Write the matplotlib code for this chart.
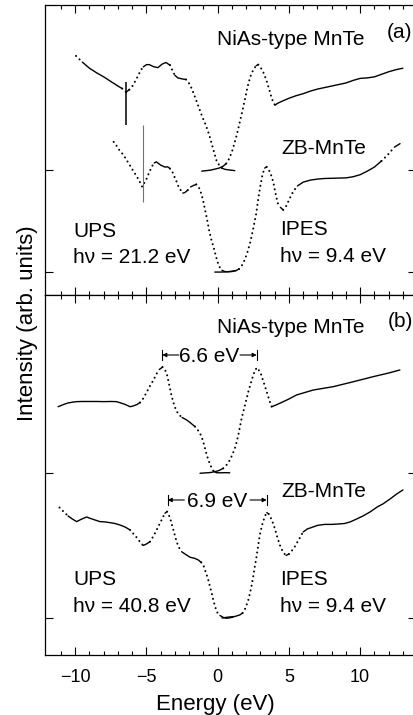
import numpy as np
import matplotlib
matplotlib.use("Agg")
import matplotlib.pyplot as plt

plt.rcParams['font.family'] = ['Liberation Sans', 'DejaVu Sans']

# ---------------- data (energy in eV, intensity in arb. units) ----------------
# Panel (a): UPS hv = 21.2 eV / IPES hv = 9.4 eV
niasA_ups_E = [-9.94, -9.5, -9.0, -8.5, -8.0, -7.5, -7.0, -6.7, -6.43, -6.2, -6.0, -5.8, -5.57, -5.4,
               -5.22, -5.0, -4.8, -4.5, -4.2, -3.9, -3.63, -3.35, -3.15, -3.0, -2.8, -2.5, -2.22, -2.0,
               -1.82, -1.6, -1.36, -1.1, -0.89, -0.7, -0.54, -0.4, -0.26, -0.1, 0.1, 0.3, 0.5, 0.8, 1.2]
niasA_ups_I = [2.12, 2.06, 2.0, 1.955, 1.915, 1.87, 1.825, 1.80, 1.765, 1.79, 1.82, 1.87, 1.93, 1.98,
               2.013, 2.035, 2.035, 2.015, 2.005, 2.04, 2.056, 2.03, 1.97, 1.93, 1.905, 1.895, 1.889, 1.85,
               1.80, 1.72, 1.63, 1.53, 1.46, 1.39, 1.32, 1.25, 1.18, 1.10, 1.05, 1.02, 1.008, 1.002, 0.995]

niasA_ipes_E = [-1.12, -0.8, -0.5, -0.2, 0.1, 0.4, 0.6, 0.8, 1.0, 1.15, 1.33, 1.5, 1.7, 1.92, 2.1, 2.3,
                2.5, 2.7, 2.85, 3.0, 3.2, 3.4, 3.6, 3.8, 4.02, 4.2, 4.5, 5.0, 5.5, 6.0, 6.5, 7.0, 7.5,
                8.0, 8.5, 9.0, 9.5, 10.0, 10.5, 11.0, 11.5, 12.0, 12.5, 13.0]
niasA_ipes_I = [0.99, 0.995, 1.0, 1.01, 1.02, 1.04, 1.065, 1.11, 1.18, 1.25, 1.34, 1.44, 1.56, 1.70, 1.82,
                1.92, 1.985, 2.025, 2.035, 2.01, 1.96, 1.89, 1.80, 1.70, 1.637, 1.655, 1.675, 1.705, 1.73,
                1.75, 1.775, 1.795, 1.81, 1.825, 1.84, 1.855, 1.88, 1.90, 1.905, 1.915, 1.94, 1.965,
                1.985, 2.0]

zbA_ups_E = [-7.3, -7.1, -6.9, -6.6, -6.3, -6.0, -5.8, -5.6, -5.45, -5.3, -5.15, -5.0, -4.8, -4.6, -4.45,
             -4.3, -4.15, -4.0, -3.85, -3.7, -3.5, -3.35, -3.2, -3.05, -2.9, -2.75, -2.6, -2.45, -2.3,
             -2.1, -1.9, -1.7, -1.5, -1.35, -1.2, -1.05, -0.9, -0.75, -0.6, -0.45, -0.3, -0.15, 0.0,
             0.15, 0.3, 0.5, 0.75, 1.0, 1.3]
zbA_ups_I = [1.277, 1.24, 1.196, 1.147, 1.078, 1.01, 0.965, 0.919, 0.88, 0.836, 0.875, 0.912, 0.98, 1.04,
             1.07, 1.081, 1.065, 1.049, 1.04, 1.03, 1.032, 1.015, 0.99, 0.94, 0.892, 0.84, 0.804, 0.775,
             0.78, 0.804, 0.835, 0.85, 0.86, 0.84, 0.79, 0.72, 0.62, 0.52, 0.41, 0.32, 0.25, 0.17, 0.095,
             0.045, 0.018, 0.005, 0.003, 0.005, 0.015]

zbA_ipes_E = [-0.2, 0.2, 0.6, 1.0, 1.3, 1.5, 1.7, 1.9, 2.1, 2.3, 2.5, 2.7, 2.85, 3.0, 3.15, 3.3, 3.44,
              3.6, 3.75, 3.9, 4.05, 4.2, 4.4, 4.6, 4.8, 5.05, 5.3, 5.6, 6.0, 6.5, 7.0, 7.5, 8.0, 8.5,
              9.0, 9.5, 10.0, 10.5, 11.0, 11.5, 12.0, 12.4, 12.8]
zbA_ipes_I = [0.0, 0.0, 0.002, 0.008, 0.015, 0.03, 0.065, 0.12, 0.2, 0.3, 0.43, 0.57, 0.72, 0.85, 0.96,
              1.02, 1.032, 1.0, 0.951, 0.885, 0.78, 0.68, 0.635, 0.61, 0.645, 0.72, 0.79, 0.845, 0.882,
              0.902, 0.912, 0.918, 0.92, 0.922, 0.924, 0.935, 0.955, 0.99, 1.03, 1.09, 1.16, 1.225, 1.26]

# Panel (b): UPS hv = 40.8 eV / IPES hv = 9.4 eV
niasB_ups_E = [-11.2, -10.8, -10.5, -10.2, -9.9, -9.5, -9.0, -8.5, -8.0, -7.5, -7.1, -6.8, -6.5, -6.15,
               -5.9, -5.65, -5.45, -5.2, -4.98, -4.75, -4.52, -4.3, -4.1, -3.87, -3.7, -3.55, -3.4,
               -3.25, -3.12, -2.95, -2.77, -2.5, -2.18, -1.9, -1.59, -1.4, -1.24, -1.1, -0.95, -0.77,
               -0.6, -0.45, -0.3, -0.1, 0.2, 0.5, 0.85]
niasB_ups_I = [1.454, 1.47, 1.48, 1.485, 1.489, 1.49, 1.49, 1.49, 1.489, 1.49, 1.489, 1.48, 1.47, 1.454,
               1.46, 1.47, 1.483, 1.514, 1.555, 1.597, 1.635, 1.679, 1.71, 1.727, 1.71, 1.672, 1.604,
               1.535, 1.487, 1.438, 1.404, 1.38, 1.363, 1.342, 1.317, 1.294, 1.271, 1.239, 1.191, 1.122,
               1.074, 1.039, 1.012, 1.0, 0.999, 1.0, 0.999]

niasB_ipes_E = [-1.24, -0.5, -0.19, 0.1, 0.39, 0.65, 0.86, 1.05, 1.21, 1.33, 1.45, 1.68, 1.92, 2.15,
                2.39, 2.62, 2.78, 3.02, 3.25, 3.44, 3.62, 3.79, 4.0, 4.37, 5.0, 5.54, 6.71, 8.11, 9.52,
                10.92, 12.0, 12.79]
niasB_ipes_I = [0.996, 1.001, 1.007, 1.015, 1.03, 1.056, 1.087, 1.129, 1.168, 1.211, 1.259, 1.374, 1.466,
                1.557, 1.638, 1.707, 1.723, 1.684, 1.615, 1.557, 1.5, 1.454, 1.462, 1.478, 1.507, 1.535,
                1.569, 1.592, 1.626, 1.661, 1.686, 1.707]

zbB_ups_E = [-11.1, -10.8, -10.5, -10.2, -9.9, -9.6, -9.2, -8.96, -8.6, -8.26, -7.9, -7.56, -7.2, -6.86,
             -6.5, -6.15, -5.9, -5.64, -5.4, -5.22, -5.0, -4.75, -4.55, -4.4, -4.2, -4.05, -3.85, -3.7,
             -3.55, -3.4, -3.3, -3.2, -3.05, -2.88, -2.7, -2.53, -2.2, -1.94, -1.6, -1.36, -1.15, -1.01,
             -0.89, -0.77, -0.65, -0.54, -0.42, -0.31, -0.19, -0.07, 0.16, 0.4, 0.63, 0.86, 1.1]
zbB_ups_I = [0.76, 0.73, 0.702, 0.681, 0.663, 0.678, 0.695, 0.686, 0.674, 0.663, 0.661, 0.656, 0.65, 0.64,
             0.626, 0.606, 0.578, 0.549, 0.516, 0.499, 0.509, 0.525, 0.557, 0.583, 0.623, 0.652, 0.692,
             0.721, 0.732, 0.702, 0.674, 0.637, 0.585, 0.523, 0.482, 0.456, 0.434, 0.418, 0.41, 0.399,
             0.382, 0.365, 0.33, 0.296, 0.258, 0.215, 0.172, 0.124, 0.083, 0.043, 0.017, 0.003, -0.002,
             0.001, 0.007]

zbB_ipes_E = [0.3, 0.86, 1.2, 1.56, 1.75, 1.92, 2.05, 2.15, 2.27, 2.39, 2.5, 2.6, 2.69, 2.8, 2.9, 3.0,
              3.16, 3.32, 3.45, 3.58, 3.7, 3.85, 4.02, 4.2, 4.4, 4.6, 4.8, 5.0, 5.19, 5.4, 5.6, 5.8, 6.0,
              6.3, 6.6, 7.0, 7.5, 8.0, 8.5, 8.9, 9.3, 9.75, 10.2, 10.7, 11.2, 11.6, 12.1, 12.56, 13.0]
zbB_ipes_I = [0.0, 0.007, 0.01, 0.021, 0.034, 0.062, 0.096, 0.124, 0.172, 0.227, 0.289, 0.351, 0.399,
              0.468, 0.537, 0.592, 0.654, 0.702, 0.725, 0.716, 0.695, 0.661, 0.613, 0.551, 0.492, 0.451,
              0.43, 0.44, 0.461, 0.489, 0.523, 0.557, 0.592, 0.613, 0.623, 0.637, 0.644, 0.644, 0.647,
              0.65, 0.661, 0.681, 0.702, 0.73, 0.764, 0.785, 0.819, 0.853, 0.881]

# vertical markers in panel (a)
mark_E = [-6.43, -5.26]
mark_top = [1.866, 1.441]
mark_bot = [1.441, 0.689]

# gap annotations in panel (b)
gap_left = [-3.89, -3.51]
gap_right = [2.74, 3.44]
gap_y = [1.81, 0.812]
gap_labels = ["6.6 eV", "6.9 eV"]

xmajor = [-10, -5, 0, 5, 10]
xminor = list(range(-11, 14))

# ---------------- figure ----------------
fig = plt.figure(figsize=(4.13, 7.15), dpi=100)
L = 45 / 413
W = (416 - 45) / 413
axA = fig.add_axes([L, 1 - 295 / 715, W, 290 / 715])
axB = fig.add_axes([L, 1 - 655 / 715, W, 360 / 715])

for ax, ylim in ((axA, (-0.225, 2.62)), (axB, (-0.255, 2.223))):
    ax.set_xlim(-12.12, 13.92)
    ax.set_ylim(*ylim)
    ax.set_xticks(xmajor)
    ax.set_xticks(xminor, minor=True)
    ax.set_yticks([0, 1])
    ax.tick_params(which='both', direction='in', top=True, right=True, width=0.8,
                   labelleft=False)
    ax.tick_params(which='major', length=5.8)
    ax.tick_params(which='minor', length=2.9)
    for s in ax.spines.values():
        s.set_linewidth(0.9)
axA.tick_params(axis='x', labelbottom=False)
axB.tick_params(axis='x', labelsize=13, pad=10)


def draw_spectrum(ax, E, I, thresh=0.9):
    E = np.asarray(E, float)
    I = np.asarray(I, float)
    P = ax.transData.transform(np.column_stack([E, I]))
    dx = np.diff(P[:, 0])
    dy = np.diff(P[:, 1])
    steep = np.abs(dy) > thresh * np.abs(dx)
    n = len(steep)
    start = 0
    for k in range(1, n + 1):
        if k == n or steep[k] != steep[start]:
            sl = slice(start, k + 1)
            if steep[start]:
                ax.plot(E[sl], I[sl], color='k', lw=1.5, linestyle=(0, (0.01, 2.3)),
                        dash_capstyle='round')
            else:
                ax.plot(E[sl], I[sl], color='k', lw=1.0, solid_capstyle='round',
                        solid_joinstyle='round')
            start = k


for E, I in ((niasA_ups_E, niasA_ups_I), (niasA_ipes_E, niasA_ipes_I),
             (zbA_ups_E, zbA_ups_I), (zbA_ipes_E, zbA_ipes_I)):
    draw_spectrum(axA, E, I)
for E, I in ((niasB_ups_E, niasB_ups_I), (niasB_ipes_E, niasB_ipes_I),
             (zbB_ups_E, zbB_ups_I), (zbB_ipes_E, zbB_ipes_I)):
    draw_spectrum(axB, E, I)

# vertical marker lines
axA.vlines(mark_E[0], mark_bot[0], mark_top[0], color='k', lw=1.1)
axA.vlines(mark_E[1], mark_bot[1], mark_top[1], color='0.45', lw=0.8)

# gap arrows
for e1, e2, y, lab in zip(gap_left, gap_right, gap_y, gap_labels):
    h = 0.037
    axB.plot([e1, e1], [y - h, y + h], color='k', lw=0.8)
    axB.plot([e2, e2], [y - h, y + h], color='k', lw=0.8)
    axB.annotate('', xy=(e1, y), xytext=(12, 0), textcoords='offset points',
                 arrowprops=dict(arrowstyle='-|>', lw=0.8, color='k', shrinkA=0, shrinkB=0,
                                 mutation_scale=6))
    axB.annotate('', xy=(e2, y), xytext=(-12, 0), textcoords='offset points',
                 arrowprops=dict(arrowstyle='-|>', lw=0.8, color='k', shrinkA=0, shrinkB=0,
                                 mutation_scale=6))
    axB.text((e1 + e2) / 2, y - 0.05, lab, ha='center', va='baseline', fontsize=15)

fs = 15
tA = [(-0.05, 2.225, "NiAs-type MnTe"), (11.86, 2.297, "(a)"), (4.49, 1.163, "ZB-MnTe"),
      (-10.13, 0.34, "UPS"), (-10.13, 0.085, "h\u03bd = 21.2 eV"),
      (4.37, 0.363, "IPES"), (4.37, 0.101, "h\u03bd = 9.4 eV")]
tB = [(-0.05, 1.959, "NiAs-type MnTe"), (11.97, 2.005, "(b)"), (4.47, 0.835, "ZB-MnTe"),
      (-10.13, 0.227, "UPS"), (-10.13, 0.043, "h\u03bd = 40.8 eV"),
      (4.37, 0.227, "IPES"), (4.37, 0.043, "h\u03bd = 9.4 eV")]
for x, y, s in tA:
    axA.text(x, y, s, ha='left', va='baseline', fontsize=fs)
for x, y, s in tB:
    axB.text(x, y, s, ha='left', va='baseline', fontsize=fs)

fig.text(215.5 / 413, 1 - 710 / 715, "Energy (eV)", ha='center', va='baseline', fontsize=16)
fig.text(27.5 / 413, 1 - 323 / 715, "Intensity (arb. units)", ha='center', va='center',
         rotation=90, fontsize=16)

fig.savefig("out.png", dpi=100, facecolor='white')
